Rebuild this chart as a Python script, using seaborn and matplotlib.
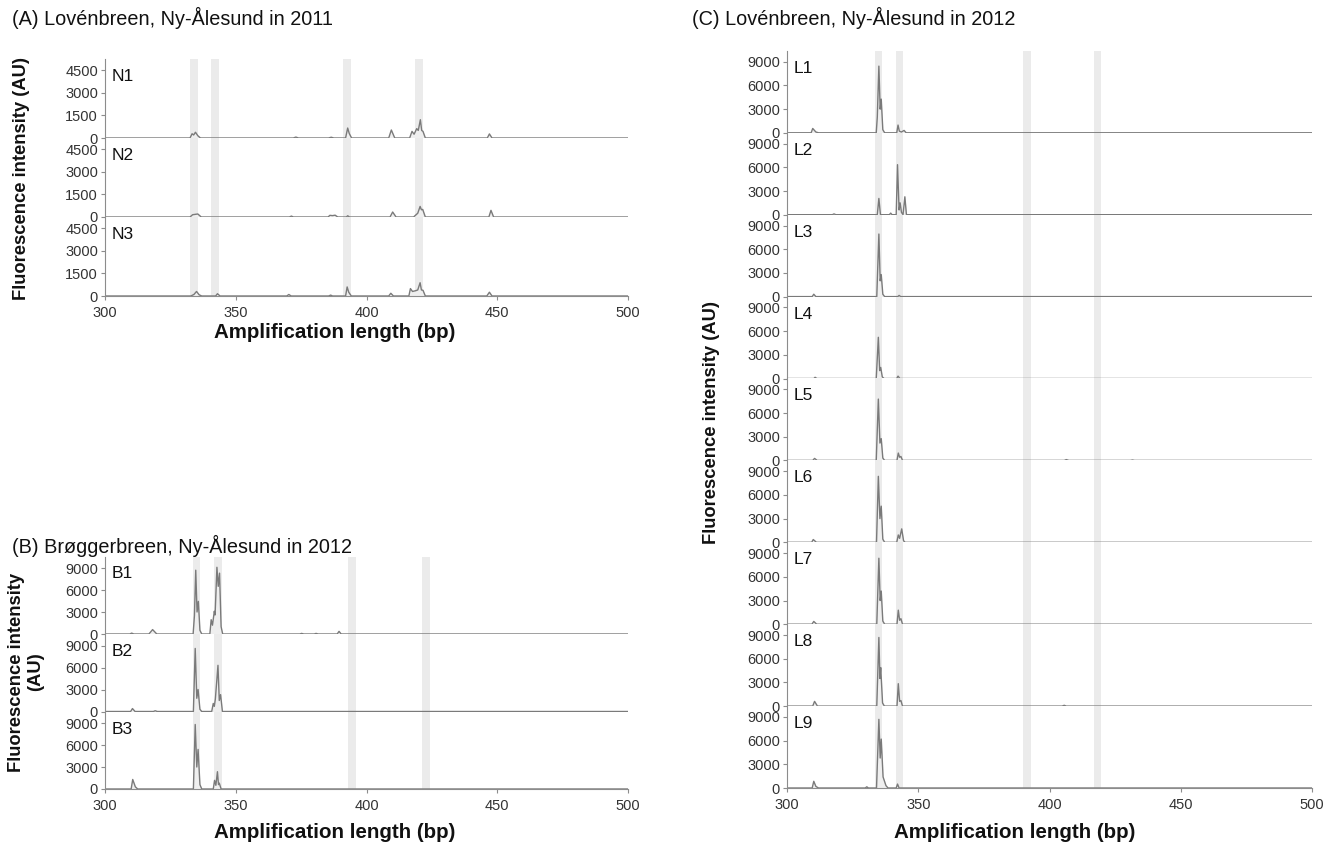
import matplotlib
matplotlib.use("Agg")
import matplotlib.pyplot as plt
import seaborn as sns

sns.set_style("white")
plt.rcParams['font.family'] = ['Liberation Sans', 'DejaVu Sans']

# electropherogram traces, (bp, AU) vertices

# (A) Lovenbreen 2011
N1 = [(300, 0), (332.5, 0), (333.3, 280), (333.9, 200), (334.6, 380), (335.5, 150), (336.5, 0),
      (372, 0), (373, 60), (374, 0), (385.5, 0), (386.5, 50), (387.5, 0),
      (392, 0), (392.8, 660), (393.4, 300), (394.3, 0), (408.5, 0), (409.5, 530), (410.8, 0),
      (416.5, 0), (417.4, 440), (418.2, 250), (419.2, 620), (419.8, 500), (420.6, 1210),
      (421.1, 500), (421.6, 440), (422.5, 0), (446.2, 0), (447, 270), (448, 0), (500, 0)]
N2 = [(300, 0), (332.5, 0), (333.5, 150), (335.5, 200), (336.8, 0), (370.5, 0), (371.3, 60), (372, 0),
      (385.3, 0), (386, 110), (387, 90), (388, 120), (389, 0), (392.3, 0), (392.8, 80), (393.5, 0),
      (409, 0), (410, 330), (411.3, 0), (418, 0), (419.6, 250), (420.5, 700), (421, 480),
      (421.5, 500), (422.5, 0), (446.8, 0), (447.6, 440), (448.6, 0), (500, 0)]
N3 = [(300, 0), (332.8, 0), (334, 100), (335, 300), (336, 80), (337, 0), (342.3, 0), (343, 150), (344, 0),
      (369.5, 0), (370.3, 100), (371.2, 0), (385.5, 0), (386.3, 60), (387, 0),
      (392, 0), (392.6, 600), (393.2, 250), (394.2, 0), (408.5, 0), (409.3, 180), (410.3, 0),
      (416.2, 0), (416.8, 490), (417.6, 300), (418.8, 350), (419.6, 400), (420.5, 880),
      (421, 400), (421.6, 380), (422.5, 0), (446, 0), (447, 250), (448, 0), (500, 0)]

# (B) Broggerbreen 2012
B1 = [(300, 0), (309.5, 0), (310.2, 120), (311, 0), (316.8, 0), (318.2, 600), (319.8, 0),
      (333.7, 0), (334.2, 2500), (334.7, 8700), (335.2, 3000), (335.7, 4450), (336.3, 500), (337, 0),
      (340.1, 0), (340.6, 1950), (341.1, 1200), (341.8, 3100), (342.1, 2600), (342.8, 9100),
      (343.3, 6500), (343.8, 8300), (344.4, 1000), (345, 0),
      (374.5, 0), (375.2, 80), (376, 0), (380, 0), (380.7, 80), (381.5, 0),
      (388.8, 0), (389.5, 360), (390.3, 0), (500, 0)]
B2 = [(300, 0), (309.8, 0), (310.5, 400), (311.5, 0), (318.5, 0), (319.2, 100), (320, 0),
      (333.8, 0), (334.5, 8600), (335.1, 1800), (335.6, 3000), (336.3, 300), (337, 0),
      (340.8, 0), (341.4, 1100), (341.8, 700), (342.2, 1700), (343.2, 6300), (343.7, 1500),
      (344.2, 2300), (344.9, 0), (500, 0)]
B3 = [(300, 0), (310, 0), (310.6, 1300), (311.6, 300), (312.5, 0),
      (333.8, 0), (334.5, 8800), (335.1, 3000), (335.6, 5400), (336.3, 600), (337, 0),
      (341.4, 0), (341.9, 1180), (342.4, 500), (343, 2360), (343.4, 600), (343.7, 800),
      (344.4, 0), (500, 0)]

# (C) Lovenbreen 2012
L1 = [(300, 0), (309.2, 0), (309.8, 550), (311, 100), (312, 0),
      (334, 0), (334.4, 2000), (335, 8450), (335.5, 3000), (335.9, 4270), (336.5, 400), (337.2, 0),
      (341.8, 0), (342.3, 980), (342.8, 200), (343.6, 100), (344.6, 300), (345.4, 0), (500, 0)]
L2 = [(300, 0), (317.3, 0), (317.9, 100), (318.6, 0), (334.4, 0), (335, 2060), (335.6, 0),
      (339, 0), (339.5, 200), (340, 0), (341.6, 0), (342.1, 6340), (342.7, 600), (343.1, 1500),
      (343.6, 300), (344.2, 0), (344.9, 2270), (345.5, 0), (500, 0)]
L3 = [(300, 0), (309.6, 0), (310.2, 300), (311, 0), (334.2, 0), (335, 7930), (335.5, 2000),
      (335.9, 2790), (336.5, 300), (337.2, 0), (342.2, 0), (342.7, 150), (343.3, 0), (500, 0)]
L4 = [(300, 0), (310.2, 0), (310.7, 150), (311.4, 0), (334, 0), (334.8, 5220), (335.3, 1000),
      (335.7, 1400), (336.3, 200), (337, 0), (341.8, 0), (342.3, 300), (343, 0), (500, 0)]
L5 = [(300, 0), (309.8, 0), (310.5, 250), (311.5, 0), (334, 0), (334.8, 7770), (335.4, 2200),
      (335.9, 2760), (336.5, 300), (337.2, 0), (341.9, 0), (342.4, 930), (342.9, 400), (343.4, 500),
      (344, 0), (405.6, 0), (406.4, 100), (407.4, 0), (430.8, 0), (431.6, 50), (432.4, 0), (500, 0)]
L6 = [(300, 0), (309.4, 0), (310, 350), (311.2, 0), (334.1, 0), (334.8, 8360), (335.4, 3000),
      (335.9, 4580), (336.5, 400), (337.2, 0), (341.8, 0), (342.4, 930), (342.9, 500),
      (343.7, 1700), (344.4, 200), (345, 0), (500, 0)]
L7 = [(300, 0), (309.5, 0), (310.2, 350), (311.3, 0), (334.2, 0), (335, 8360), (335.5, 3000),
      (335.9, 4200), (336.5, 400), (337.2, 0), (341.9, 0), (342.4, 1780), (342.9, 500),
      (343.4, 700), (344, 0), (500, 0)]
L8 = [(300, 0), (309.8, 0), (310.5, 600), (311.6, 0), (334.2, 0), (335, 8700), (335.4, 3500),
      (335.7, 4880), (336.4, 400), (337.1, 0), (341.9, 0), (342.4, 2840), (342.9, 600),
      (343.4, 700), (344, 0), (404.8, 0), (405.6, 100), (406.4, 0), (500, 0)]
L9 = [(300, 0), (309.6, 0), (310.2, 850), (311, 200), (312, 0), (329.8, 0), (330.4, 150), (331, 0),
      (334.1, 0), (335, 8700), (335.5, 3800), (335.9, 6200), (336.6, 1400), (337.7, 300),
      (338.5, 0), (341.6, 0), (342.1, 500), (342.7, 0), (500, 0)]

# grey marker bands (bp)
bands_a = [(332.5, 335.4), (340.6, 343.5), (391.2, 394.1), (418.5, 421.5)]
bands_b = [(333.6, 336.5), (341.7, 344.6), (392.9, 395.8), (421.3, 424.2)]
bands_c = [(333.4, 336.3), (341.4, 344.3), (389.9, 392.8), (416.8, 419.7)]

ticks_a = [0, 1500, 3000, 4500]
ticks_big = [0, 3000, 6000, 9000]
xticks = [300, 350, 400, 450, 500]

W, H = 1336, 851
fig = plt.figure(figsize=(W / 100, H / 100), dpi=100)

line_col = '#7a7a7a'
spine_col = '#8c8c8c'
txt_col = '#333333'


def draw_panel(traces, names, bands, left, right, base_px, step_px, ymax, yticks):
    n = len(traces)
    axes = []
    for i, (pts, name) in enumerate(zip(traces, names)):
        bot_px = base_px - (n - 1 - i) * step_px
        ax = fig.add_axes([left / W, 1 - bot_px / H, (right - left) / W, step_px / H])
        for lo, hi in bands:
            ax.axvspan(lo, hi, color='#ebebeb', lw=0, zorder=0)
        xs = [p[0] for p in pts]
        ys = [p[1] for p in pts]
        ax.fill_between(xs, ys, 0, color='#efefef', lw=0, zorder=1)
        sns.lineplot(x=xs, y=ys, ax=ax, color=line_col, lw=1.0,
                     estimator=None, sort=False, zorder=2)
        ax.set_xlim(300, 500)
        ax.set_ylim(0, ymax)
        ax.set_yticks(yticks)
        ax.set_yticklabels([str(t) for t in yticks])
        ax.tick_params(axis='y', direction='out', length=3, width=0.8, color=spine_col,
                       labelsize=10.5, labelcolor=txt_col, pad=2, left=True)
        for s in ['top', 'right']:
            ax.spines[s].set_visible(False)
        ax.spines['left'].set_color(spine_col)
        ax.spines['left'].set_linewidth(0.8)
        ax.set_xlabel('')
        ax.set_ylabel('')
        ax.text(0.012, 1 - 10 / step_px, name, transform=ax.transAxes, va='top', ha='left',
                fontsize=12.5, color='#111111')
        if i == n - 1:
            ax.spines['bottom'].set_color(spine_col)
            ax.spines['bottom'].set_linewidth(0.8)
            ax.set_xticks(xticks)
            ax.set_xticklabels([str(t) for t in xticks])
            ax.tick_params(axis='x', direction='out', length=3, width=0.8, color=spine_col,
                           labelsize=10.5, labelcolor=txt_col, pad=4, bottom=True)
        else:
            ax.spines['bottom'].set_visible(False)
            ax.set_xticks([])
        axes.append(ax)
    return axes


draw_panel([N1, N2, N3], ['N1', 'N2', 'N3'], bands_a, 105, 628, 296, 79, 5230, ticks_a)
draw_panel([B1, B2, B3], ['B1', 'B2', 'B3'], bands_b, 105, 628, 789, 77.5, 10570, ticks_big)
draw_panel([L1, L2, L3, L4, L5, L6, L7, L8, L9],
           ['L1', 'L2', 'L3', 'L4', 'L5', 'L6', 'L7', 'L8', 'L9'],
           bands_c, 787, 1312, 788, 81.9, 10380, ticks_big)

title_kw = dict(fontsize=14.3, color='#111111', va='center', ha='left')
fig.text(12 / W, 1 - 18 / H, '(A) Lovénbreen, Ny-Ålesund in 2011', **title_kw)
fig.text(12 / W, 1 - 546 / H, '(B) Brøggerbreen, Ny-Ålesund in 2012', **title_kw)
fig.text(692 / W, 1 - 18 / H, '(C) Lovénbreen, Ny-Ålesund in 2012', **title_kw)

ylab_kw = dict(fontsize=13.2, fontweight='bold', color='#111111', ha='center', va='center')
fig.text(22 / W, 1 - 178 / H, 'Fluorescence intensity (AU)', rotation=90, **ylab_kw)
fig.text(26 / W, 1 - 672 / H, 'Fluorescence intensity\n(AU)', rotation=90,
         linespacing=1.1, **ylab_kw)
fig.text(712 / W, 1 - 422 / H, 'Fluorescence intensity (AU)', rotation=90, **ylab_kw)

xlab_kw = dict(fontsize=14.8, fontweight='bold', color='#111111', ha='center', va='center')
fig.text(335 / W, 1 - 332 / H, 'Amplification length (bp)', **xlab_kw)
fig.text(335 / W, 1 - 832 / H, 'Amplification length (bp)', **xlab_kw)
fig.text(1015 / W, 1 - 832 / H, 'Amplification length (bp)', **xlab_kw)

fig.savefig('out.png', dpi=100)
